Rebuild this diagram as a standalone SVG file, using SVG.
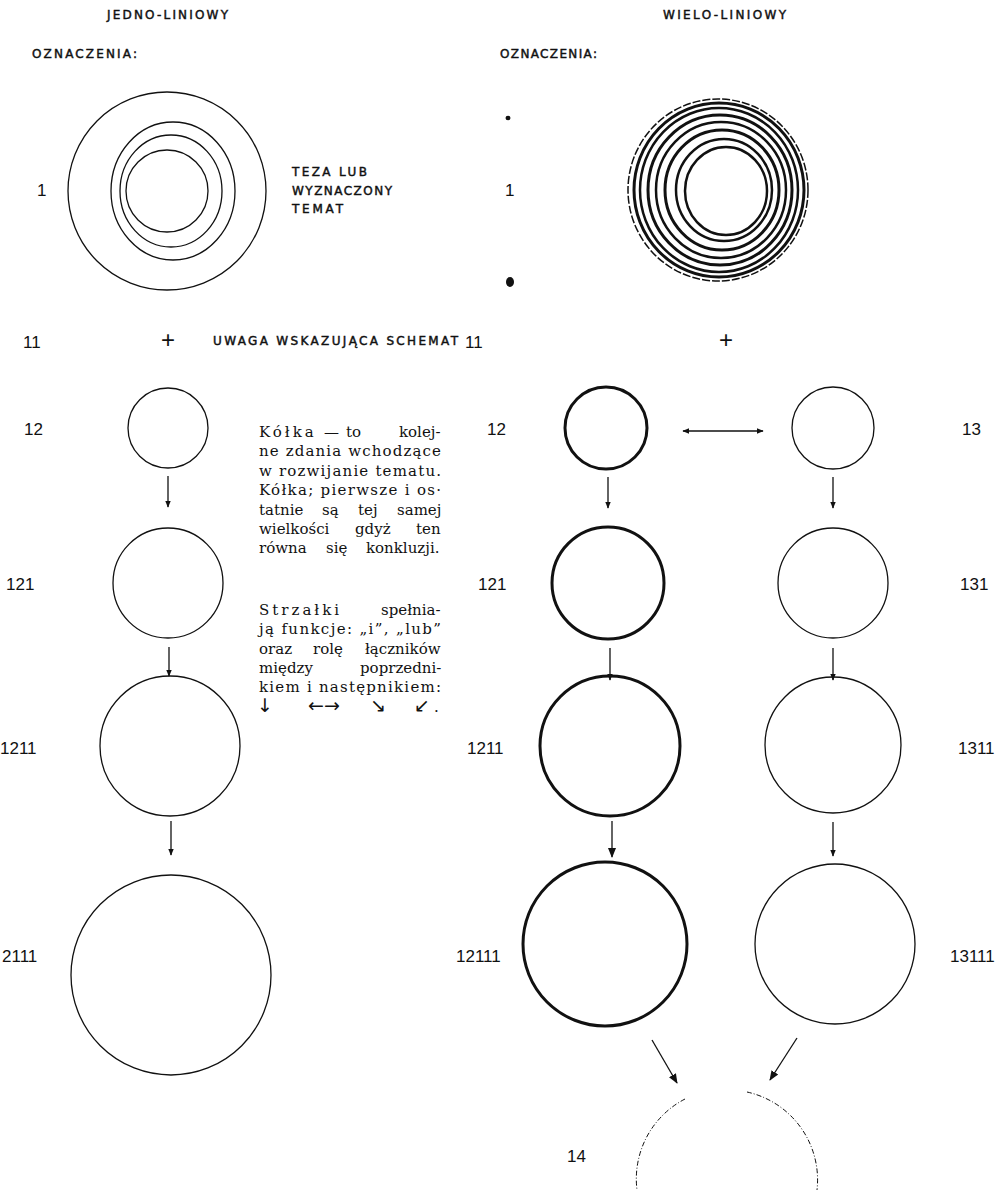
<svg xmlns="http://www.w3.org/2000/svg" width="1002" height="1190" viewBox="0 0 1002 1190">
<style>
.cap{font-family:"DejaVu Sans",sans-serif;font-size:12px;fill:#111;stroke:#111;stroke-width:0.45}
.num{font-family:"Liberation Sans",Arial,sans-serif;font-size:17px;fill:#111}
.ser{font-family:"DejaVu Serif","Liberation Serif",serif;font-size:15px;fill:#111}
.arw{font-family:"DejaVu Sans",sans-serif;font-size:19px}
.thin{fill:none;stroke:#111;stroke-width:1.3}
.thick{fill:none;stroke:#111;stroke-width:3}
.ring{fill:none;stroke:#111}
.conn{stroke:#111;stroke-width:1.3;fill:none}
.plus{font-family:"Liberation Sans",Arial,sans-serif;font-size:24px;fill:#111}
.arc{fill:none;stroke:#111;stroke-width:1;stroke-dasharray:5 2 1 2}
</style>
<defs>
<marker id="ah" viewBox="0 0 10 10" refX="9" refY="5" markerWidth="7" markerHeight="7" markerUnits="userSpaceOnUse" orient="auto-start-reverse">
<path d="M0,1 L10,5 L0,9 Z" fill="#111"/>
</marker>
<marker id="ahb" viewBox="0 0 10 10" refX="9" refY="5" markerWidth="10" markerHeight="10" markerUnits="userSpaceOnUse" orient="auto-start-reverse">
<path d="M0,1 L10,5 L0,9 Z" fill="#111"/>
</marker>
</defs>
<rect width="1002" height="1190" fill="#fff"/>

<g id="headers">
<text class="cap" x="107" y="19" textLength="121" lengthAdjust="spacing">JEDNO-LINIOWY</text>
<text class="cap" x="32" y="58" textLength="105" lengthAdjust="spacing">OZNACZENIA:</text>
<text class="cap" x="663" y="19" textLength="123" lengthAdjust="spacing">WIELO-LINIOWY</text>
<text class="cap" x="500" y="58" textLength="97" lengthAdjust="spacing">OZNACZENIA:</text>
</g>

<g id="node-1-left">
<text class="num" x="37" y="196">1</text>
<circle class="thin" cx="167" cy="191" r="99"/>
<ellipse class="thin" cx="173" cy="191" rx="62" ry="69"/>
<ellipse class="thin" cx="171" cy="191" rx="51" ry="56"/>
<circle class="thin" cx="167" cy="191" r="41"/>
<text class="cap" x="292" y="176" textLength="75" lengthAdjust="spacing">TEZA LUB</text>
<text class="cap" x="292" y="195" textLength="100" lengthAdjust="spacing">WYZNACZONY</text>
<text class="cap" x="292" y="213" textLength="51" lengthAdjust="spacing">TEMAT</text>
</g>

<g id="node-1-right">
<ellipse cx="508" cy="118" rx="2.5" ry="2.2" fill="#111"/>
<ellipse cx="510" cy="282" rx="4" ry="5" fill="#111"/>
<text class="num" x="505" y="196">1</text>
<ellipse class="ring" stroke-width="2.5" cx="726" cy="191" rx="41" ry="44"/>
<ellipse class="ring" stroke-width="2.5" cx="724" cy="190" rx="48" ry="51"/>
<ellipse class="ring" stroke-width="3" cx="722" cy="190" rx="57" ry="60"/>
<ellipse class="ring" stroke-width="2.5" cx="721" cy="190" rx="65" ry="68"/>
<ellipse class="ring" stroke-width="3" cx="720" cy="190" rx="72" ry="75"/>
<ellipse class="ring" stroke-width="2.5" cx="719" cy="190" rx="79" ry="82"/>
<ellipse class="ring" stroke-width="3" cx="719" cy="190" rx="85" ry="87"/>
<ellipse class="ring" stroke-width="1.5" stroke-dasharray="8 2" cx="718" cy="190" rx="90" ry="91"/>
</g>

<g id="node-11-left">
<text class="num" x="23" y="348">11</text>
<text class="plus" x="161" y="348">+</text>
<text class="cap" x="213" y="345" textLength="245" lengthAdjust="spacing">UWAGA WSKAZUJĄCA SCHEMAT</text>
</g>

<g id="node-11-right">
<text class="num" x="465" y="348">11</text>
<text class="plus" x="719" y="348">+</text>
</g>

<g id="node-12-left"><text class="num" x="24" y="435">12</text><circle class="thin" cx="168" cy="428" r="40"/></g>
<g id="node-121-left"><text class="num" x="6" y="590">121</text><circle class="thin" cx="168" cy="583" r="55"/></g>
<g id="node-1211-left"><text class="num" x="0" y="754">1211</text><circle class="thin" cx="170" cy="746" r="70"/></g>
<g id="node-2111-left"><text class="num" x="2" y="962">2111</text><circle class="thin" cx="171" cy="975" r="100"/></g>

<g id="note">
<text class="ser" y="437"><tspan x="259" letter-spacing="3">Kółka</tspan><tspan x="324">—</tspan><tspan x="346">to</tspan><tspan x="399">kolej-</tspan></text>
<text class="ser" x="259" y="456" textLength="182" lengthAdjust="spacing">ne zdania wchodzące</text>
<text class="ser" x="259" y="476" textLength="182" lengthAdjust="spacing">w rozwijanie tematu.</text>
<text class="ser" x="259" y="495" textLength="182" lengthAdjust="spacing">Kółka; pierwsze i os·</text>
<text class="ser" y="515"><tspan x="259">tatnie</tspan><tspan x="322">są</tspan><tspan x="358">tej</tspan><tspan x="397">samej</tspan></text>
<text class="ser" y="534"><tspan x="259">wielkości</tspan><tspan x="355">gdyż</tspan><tspan x="416">ten</tspan></text>
<text class="ser" y="553"><tspan x="259">równa</tspan><tspan x="326">się</tspan><tspan x="366">konkluzji.</tspan></text>
<text class="ser" y="615"><tspan x="259" letter-spacing="3">Strzałki</tspan><tspan x="381">spełnia-</tspan></text>
<text class="ser" x="259" y="634" textLength="182" lengthAdjust="spacing">ją funkcje: „i”, „lub”</text>
<text class="ser" y="654"><tspan x="259">oraz</tspan><tspan x="313">rolę</tspan><tspan x="365">łączników</tspan></text>
<text class="ser" y="673"><tspan x="259">między</tspan><tspan x="360">poprzedni-</tspan></text>
<text class="ser" x="259" y="692" textLength="182" lengthAdjust="spacing">kiem i następnikiem:</text>
<text class="ser" y="712"><tspan class="arw" x="257">↓</tspan><tspan class="arw" x="308">←→</tspan><tspan class="arw" x="370">↘</tspan><tspan class="arw" x="414">↙</tspan><tspan x="434">.</tspan></text>
</g>

<g id="node-12-right"><text class="num" x="487" y="435">12</text><circle class="thick" stroke-width="2.5" cx="606" cy="428" r="41"/></g>
<g id="node-121-right"><text class="num" x="478" y="590">121</text><circle class="thick" cx="608" cy="583" r="56"/></g>
<g id="node-1211-right"><text class="num" x="467" y="754">1211</text><circle class="thick" stroke-width="2.7" cx="610" cy="746" r="70"/></g>
<g id="node-12111-right"><text class="num" x="456" y="962">12111</text><circle class="thick" stroke-width="3.5" cx="605" cy="944" r="82"/></g>

<g id="node-13"><text class="num" x="962" y="435">13</text><circle class="thin" cx="833" cy="428" r="41"/></g>
<g id="node-131"><text class="num" x="960" y="590">131</text><circle class="thin" cx="833" cy="583" r="55"/></g>
<g id="node-1311"><text class="num" x="958" y="754">1311</text><circle class="thin" cx="833" cy="745" r="68"/></g>
<g id="node-13111"><text class="num" x="950" y="962">13111</text><circle class="thin" cx="835" cy="944" r="80"/></g>

<g id="node-14">
<text class="num" x="567" y="1162">14</text>
<path class="arc" d="M685,1099 A90,90 0 0 0 637,1190"/>
<path class="arc" d="M747,1092 A90,90 0 0 1 817,1190"/>
</g>

<g id="connectors">
<line class="conn" x1="168" y1="476" x2="168" y2="507" marker-end="url(#ah)"/>
<line class="conn" x1="169" y1="647" x2="169" y2="676" marker-end="url(#ah)"/>
<line class="conn" x1="171" y1="821" x2="171" y2="855" marker-end="url(#ah)"/>
<line class="conn" x1="683" y1="431" x2="763" y2="431" marker-start="url(#ah)" marker-end="url(#ah)"/>
<line class="conn" x1="608" y1="477" x2="608" y2="508" marker-end="url(#ah)"/>
<line class="conn" x1="610" y1="648" x2="610" y2="680" marker-end="url(#ah)"/>
<line class="conn" stroke-width="2" x1="612" y1="821" x2="612" y2="857" marker-end="url(#ahb)"/>
<line class="conn" x1="833" y1="477" x2="833" y2="508" marker-end="url(#ah)"/>
<line class="conn" x1="833" y1="648" x2="833" y2="680" marker-end="url(#ah)"/>
<line class="conn" x1="833" y1="822" x2="833" y2="856" marker-end="url(#ah)"/>
<line class="conn" stroke-width="2" x1="652" y1="1040" x2="677" y2="1083" marker-end="url(#ahb)"/>
<line class="conn" stroke-width="2" x1="797" y1="1038" x2="770" y2="1080" marker-end="url(#ahb)"/>
</g>
</svg>
